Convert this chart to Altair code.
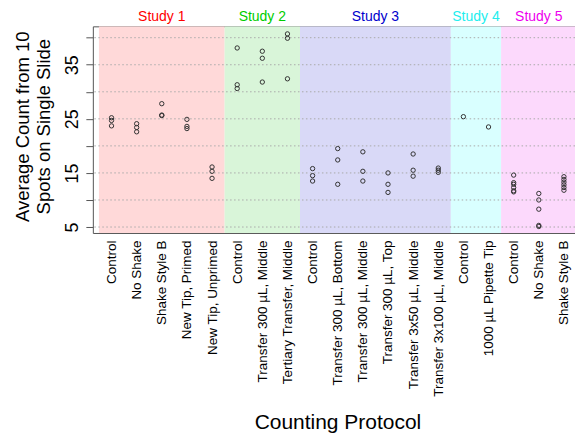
import json
import altair as alt
import pandas as pd

# ---------------- data ----------------
studies = ["Study 1", "Study 2", "Study 3", "Study 4", "Study 5"]

study1_protocols = ["Control", "No Shake", "Shake Style B", "New Tip, Primed", "New Tip, Unprimed"]
study2_protocols = ["Control", "Transfer 300 µL, Middle", "Tertiary Transfer, Middle"]
study3_protocols = ["Control", "Transfer 300 µL, Bottom", "Transfer 300 µL, Middle",
                    "Transfer 300 µL, Top", "Transfer 3x50 µL, Middle", "Transfer 3x100 µL, Middle"]
study4_protocols = ["Control", "1000 µL Pipette Tip"]
study5_protocols = ["Control", "No Shake", "Shake Style B"]

study1_counts = [[25.2, 24.7, 23.7], [24.1, 23.4, 22.6], [27.8, 25.7, 25.6],
                 [24.9, 23.6, 23.2], [16.1, 15.3, 14.0]]
study2_counts = [[38.1, 31.3, 30.6], [37.5, 36.2, 31.8], [40.7, 39.9, 32.4]]
study3_counts = [[15.8, 14.5, 13.5], [19.5, 17.4, 12.9], [18.9, 15.3, 13.5],
                 [15.0, 12.9, 11.4], [18.5, 15.5, 14.4], [15.9, 15.5, 15.1]]
study4_counts = [[25.4], [23.5]]
study5_counts = [[14.6, 13.2, 12.9, 12.3, 11.7, 11.5],
                 [11.2, 10.0, 8.3, 5.3, 5.1],
                 [14.3, 13.8, 13.3, 12.8, 12.3, 11.8]]

y_ticks = [5, 10, 15, 20, 25, 30, 35, 40]

# ---------------- styles ----------------
text_colors = ["#ff0000", "#00cd00", "#0000cd", "#22eeee", "#ee00ee"]
fill_colors = ["#ffd9d9", "#d9f5d9", "#d9d9f7", "#d9ffff", "#fcd9fc"]
FONT = "Liberation Sans"

# ---------------- tables ----------------
all_protocols = [study1_protocols, study2_protocols, study3_protocols,
                 study4_protocols, study5_protocols]
all_counts = [study1_counts, study2_counts, study3_counts, study4_counts, study5_counts]

names = []
point_rows = []
region_rows = []
idx = 0
for s, prots, cnts in zip(studies, all_protocols, all_counts):
    start = idx
    for p, vals in zip(prots, cnts):
        names.append(p)
        for v in vals:
            point_rows.append({"x": idx, "count": v, "study": s})
        idx += 1
    region_rows.append({"study": s, "start": start - 0.5, "end": idx - 0.5,
                        "center": (start + idx - 1) / 2})

points = pd.DataFrame(point_rows)
regions = pd.DataFrame(region_rows)
grid = pd.DataFrame({"y": y_ticks})

W, H = 483, 207
xscale = alt.Scale(domain=[-0.743, 18.44], nice=False, zero=False)
yscale = alt.Scale(domain=[3.9, 42.1], nice=False, zero=False)

label_expr = json.dumps(names, ensure_ascii=False) + "[datum.value]"

x_axis = alt.Axis(
    values=list(range(len(names))), labelExpr=label_expr,
    labelAngle=270, labelAlign="right", labelBaseline="middle",
    labelFontSize=13.5, labelFont=FONT, labelColor="black", labelPadding=7,
    ticks=False, tickSize=0, domain=False, grid=False, labelOverlap=False,
    labelBound=False, labelFlush=False,
    title="Counting Protocol", titleFont=FONT, titleFontSize=21,
    titleFontWeight="normal", titleColor="black",
    titleX=245, titleY=196, titleAlign="center", titleBaseline="alphabetic",
    titleAngle=0,
)
y_axis = alt.Axis(
    values=y_ticks, labelExpr="datum.value % 10 == 5 ? datum.label : ''",
    labelAngle=270, labelAlign="center", labelBaseline="alphabetic",
    labelFontSize=18, labelFont=FONT, labelColor="black", labelPadding=8,
    ticks=True, tickSize=7, tickColor="#555555", domain=False, grid=False,
    labelOverlap=False, labelFlush=False,
    title=["Average Count from 10", "Spots on Single Slide"],
    titleFont=FONT, titleFontSize=18.5, titleFontWeight="normal",
    titleColor="black", titleAngle=270, titleAlign="center",
    titleBaseline="top", titleLineHeight=21, titleX=-79.6, titleY=100,
)

bg = alt.Chart(regions).mark_rect(clip=True).encode(
    x=alt.X("start:Q", scale=xscale, axis=x_axis),
    x2="end:Q",
    y=alt.value(0),
    y2=alt.value(H),
    fill=alt.Fill("study:N", scale=alt.Scale(domain=studies, range=fill_colors), legend=None),
)

rules = alt.Chart(grid).mark_rule(color="#aaaaaa", strokeWidth=1, strokeDash=[1.5, 2.5]).encode(
    y=alt.Y("y:Q", scale=yscale, axis=y_axis),
)

pts = alt.Chart(points).mark_point(
    shape="circle", filled=False, size=19, strokeWidth=1.0, color="#333333", opacity=1
).encode(
    x=alt.X("x:Q", scale=xscale, axis=x_axis),
    y=alt.Y("count:Q", scale=yscale, axis=y_axis),
)

labels = alt.Chart(regions).mark_text(
    font=FONT, fontSize=14, baseline="alphabetic", align="center"
).encode(
    x=alt.X("center:Q", scale=xscale, axis=x_axis),
    y=alt.value(-5),
    text="study:N",
    color=alt.Color("study:N", scale=alt.Scale(domain=studies, range=text_colors), legend=None),
)

chart = alt.layer(bg, rules, pts, labels).properties(
    width=W, height=H,
    autosize=alt.AutoSizeParams(type="none"),
    padding={"left": 93, "top": 26, "right": 0, "bottom": 202},
    background="white",
).configure_view(stroke="#555555", strokeWidth=1)

chart.save("out.html", embed_options={"renderer": "svg", "actions": False})
